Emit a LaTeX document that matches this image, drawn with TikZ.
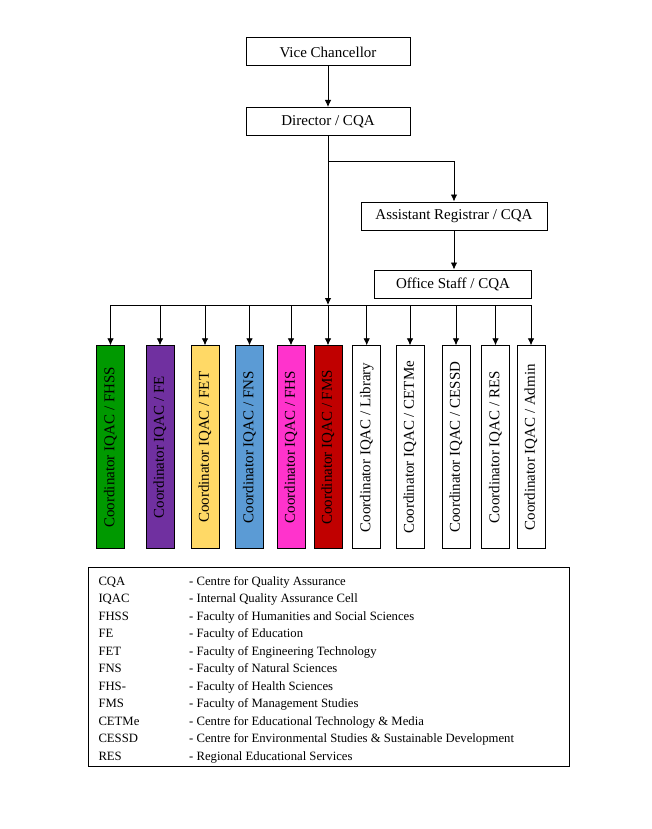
\documentclass[tikz,border=0pt]{standalone}
\usepackage{fontspec}
\setmainfont{Liberation Serif}
\usetikzlibrary{calc, arrows.meta}

\definecolor{cgreen}{RGB}{0,153,0}
\definecolor{cpurple}{RGB}{112,48,160}
\definecolor{cyellow}{RGB}{255,217,102}
\definecolor{cblue}{RGB}{91,155,213}
\definecolor{cpink}{RGB}{255,51,204}
\definecolor{cred}{RGB}{192,0,0}

\tikzset{
    box/.style={draw, line width=1pt, inner sep=0pt, minimum height=28pt, font=\fontsize{15}{18}\selectfont},
    coord/.style={draw, line width=1pt, inner sep=0pt, rotate=90, minimum width=203pt, minimum height=28pt, font=\fontsize{15}{18}\selectfont},
    link/.style={line width=0.8pt, -{Latex[length=7pt, width=6.5pt]}},
    legtext/.style={anchor=base west, inner sep=0pt, font=\fontsize{12.7}{15}\selectfont}
}

\begin{document}
\begin{tikzpicture}[x=1pt, y=1pt]
        \useasboundingbox (0,0) rectangle (651,-829);
        % top of the chart
        \node[box, minimum width=164pt] (vc) at (328,-52) {Vice Chancellor};
        \node[box, minimum width=164pt] (dir) at (328,-121.5) {Director / CQA};
        \node[box, minimum width=186pt] (ar) at (454,-216) {Assistant Registrar / CQA};
        \node[box, minimum width=157pt] (os) at (453,-284) {Office Staff / CQA};
        \coordinate (forkrow) at (0,-161);
        \coordinate (bar) at (0,-305);
        % coordinators
        \foreach \n/\x/\c/\t in {fhss/110.5/cgreen/FHSS, fe/160/cpurple/FE, fet/205/cyellow/FET, fns/249.5/cblue/FNS, fhs/291/cpink/FHS, fms/328/cred/FMS, lib/366.7/white/Library, cetme/410/white/CETMe, cessd/456/white/CESSD, res/495.5/white/RES, admin/531/white/Admin}
            \node[coord, fill=\c] (\n) at (\x,-447.3) {Coordinator IQAC / \t};
        % connectors
        \draw[link] (vc.south) -- (dir.north);
        \draw[link] (dir.south) -- (dir.south |- bar);
        \draw[link] (dir.south |- forkrow) -| (ar.north);
        \draw[link] (ar.south) -- (ar.south |- os.north);
        \draw[line width=0.8pt] (fhss.east |- bar) -- (admin.east |- bar);
        \foreach \n in {fhss, fe, fet, fns, fhs, fms, lib, cetme, cessd, res, admin}
            \draw[link] (\n.east |- bar) -- (\n.east);
        % legend
        \draw[line width=0.8pt] (88.3,-567.7) rectangle (569.3,-766);
        \foreach \a/\b [count=\i] in {CQA/Centre for Quality Assurance, IQAC/Internal Quality Assurance Cell, FHSS/Faculty of Humanities and Social Sciences, FE/Faculty of Education, FET/Faculty of Engineering Technology, FNS/Faculty of Natural Sciences, FHS-/Faculty of Health Sciences, FMS/Faculty of Management Studies, CETMe/Centre for Educational Technology \& Media, CESSD/Centre for Environmental Studies \& Sustainable Development, RES/Regional Educational Services}
        {
            \node[legtext] (abbr\i) at (98.3,{-585.5-17.45*(\i-1)}) {\a};
            \node[legtext] (desc\i) at (189,{-585.5-17.45*(\i-1)}) {- \b};
        }
\end{tikzpicture}
\end{document}
